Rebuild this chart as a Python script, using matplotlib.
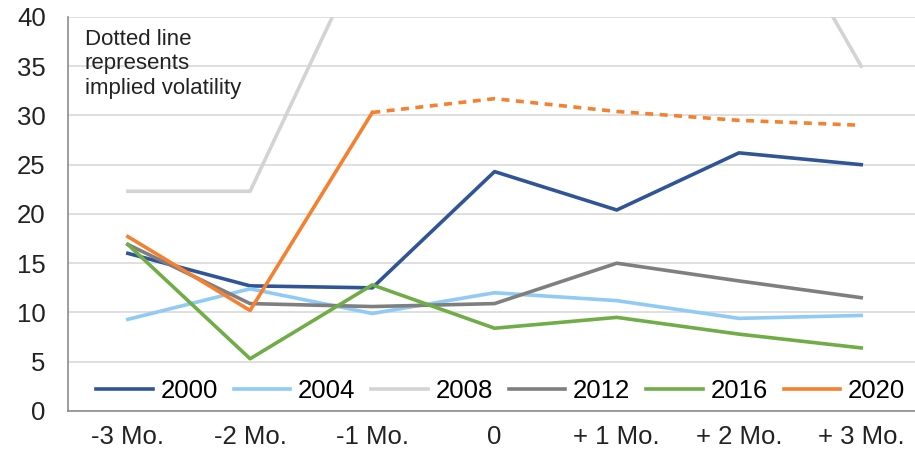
import matplotlib
matplotlib.use("Agg")
import matplotlib.pyplot as plt
import numpy as np

plt.rcParams["font.family"] = ["Liberation Sans", "DejaVu Sans"]

# data
MONTHS = ["-3 Mo.", "-2 Mo.", "-1 Mo.", "0", "+ 1 Mo.", "+ 2 Mo.", "+ 3 Mo."]
Y2000 = [16.0, 12.7, 12.5, 24.3, 20.4, 26.2, 25.0]
Y2004 = [9.3, 12.4, 9.9, 12.0, 11.2, 9.4, 9.7]
Y2008 = [22.3, 22.3, 48.6, 60.0, 58.0, 56.6, 35.0]
Y2012 = [16.9, 10.9, 10.6, 10.9, 15.0, 13.2, 11.5]
Y2016 = [16.9, 5.3, 12.8, 8.4, 9.5, 7.8, 6.4]
Y2020 = [17.7, 10.2, 30.3]                        # realized
Y2020_IMPLIED = [30.3, 31.7, 30.4, 29.5, 29.0]    # implied vol, -1 Mo. onwards

COLORS = {"2000": "#2F5597", "2004": "#8FCBF5", "2008": "#D3D3D3",
          "2012": "#7F7F7F", "2016": "#70AD47", "2020": "#F58030"}

fig = plt.figure(figsize=(9.15, 4.57), dpi=100)
ax = fig.add_axes([0.0743, 0.1007, 0.9257, 0.8623])

x = np.arange(len(MONTHS))
lw = 2.6
for name, ys in [("2000", Y2000), ("2004", Y2004), ("2008", Y2008),
                 ("2012", Y2012), ("2016", Y2016)]:
    ax.plot(x, ys, color=COLORS[name], lw=lw, label=name)
ax.plot(x[:len(Y2020)], Y2020, color=COLORS["2020"], lw=lw, label="2020")
ax.plot(x[2:], Y2020_IMPLIED, color=COLORS["2020"], lw=lw, ls=(0, (2.2, 1.8)))

ax.set_ylim(0, 40)
ax.set_xlim(-0.49, 6.44)
ax.set_yticks(range(0, 41, 5))
ax.set_xticks(x)
ax.set_xticklabels(MONTHS)
ax.tick_params(length=0, labelsize=18.5, colors="#222222")
ax.tick_params(axis="x", pad=10)
ax.tick_params(axis="y", pad=16)
ax.grid(axis="y", color="#D9D9D9", lw=1.2)
ax.set_axisbelow(True)
for s in ("top", "right"):
    ax.spines[s].set_visible(False)
for s in ("left", "bottom"):
    ax.spines[s].set_color("#8C8C8C")
    ax.spines[s].set_linewidth(1.2)

ax.text(0.02, 0.97, "Dotted line\nrepresents\nimplied volatility",
        transform=ax.transAxes, va="top", ha="left", fontsize=16,
        color="#222222", linespacing=1.22)

ax.legend(loc="lower left", ncol=6, frameon=False, fontsize=18.5,
          handlelength=2.2, handletextpad=0.3, columnspacing=0.62,
          bbox_to_anchor=(0.012, -0.025), borderaxespad=0.3)

fig.savefig("out.png", dpi=100)
